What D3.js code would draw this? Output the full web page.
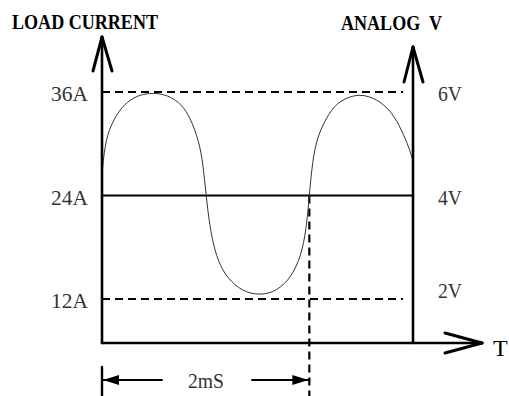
<!DOCTYPE html>
<html>
<head>
<meta charset="utf-8">
<script src="https://cdn.jsdelivr.net/npm/d3@7"></script>
<style>
  body { margin: 0; background: #fff; }
  text { font-family: "Liberation Serif", "DejaVu Serif", serif; }
</style>
</head>
<body>
<div id="content"></div>
<script>
// waveform samples: time in ms, load current in A
var times = [0.00, 0.02, 0.06, 0.17, 0.27, 0.37, 0.49, 0.61, 0.71, 0.81, 0.90, 0.96, 0.99,
             1.02, 1.06, 1.12, 1.21, 1.35, 1.52, 1.69, 1.83, 1.92, 1.97, 2.00,
             2.03, 2.08, 2.19, 2.29, 2.48, 2.67, 2.80, 2.89, 2.96, 2.99];
var current = [26.5, 29.0, 31.6, 34.0, 35.1, 35.7, 35.9, 35.7, 35.1, 34.0, 31.6, 29.0, 25.8,
               22.2, 19.0, 16.3, 14.4, 12.9, 12.4, 12.9, 14.6, 17.0, 20.0, 24.0,
               28.0, 31.0, 33.6, 35.0, 35.9, 35.1, 33.6, 31.6, 29.6, 28.4];

var currentTicks = [36, 24, 12];
var voltTicks = [6, 4, 2];
var dashedLevels = [36, 12];
var periodMs = 2;   // width of the 2mS dimension
var tMax = 3;       // right axis position in ms

var svg = d3.select('#content')
  .append('svg')
  .attr('width', 509).attr('height', 396);

var x = d3.scaleLinear().domain([0, tMax]).range([102, 413]);
var y = d3.scaleLinear().domain([12, 36]).range([299, 92]);
var yV = d3.scaleLinear().domain([2, 6]).range([299, 92]);
var baseY = 343;

// dashed reference levels
svg.selectAll('line.lvl')
  .data(dashedLevels)
  .enter().append('line')
  .attr('x1', x(0)).attr('x2', 403)
  .attr('y1', function(d){ return y(d); })
  .attr('y2', function(d){ return y(d); })
  .attr('stroke', '#000').attr('stroke-width', 2.2)
  .attr('stroke-dasharray', '8,5');

// 24A solid mid line
svg.append('line')
  .attr('x1', x(0)).attr('x2', x(tMax))
  .attr('y1', y(24)).attr('y2', y(24))
  .attr('stroke', '#000').attr('stroke-width', 2.2);

// dashed vertical at 2ms
svg.append('line')
  .attr('x1', x(periodMs)).attr('x2', x(periodMs))
  .attr('y1', y(24)).attr('y2', 396)
  .attr('stroke', '#000').attr('stroke-width', 2.2)
  .attr('stroke-dasharray', '8,5');

// waveform
var pts = times.map(function(t, i){ return [t, current[i]]; });
var line = d3.line()
  .x(function(d){ return x(d[0]); })
  .y(function(d){ return y(d[1]); })
  .curve(d3.curveBasis);
svg.append('path')
  .attr('d', line(pts))
  .attr('fill', 'none')
  .attr('stroke', '#333').attr('stroke-width', 1);

// axes
var axisW = 2.6;
function seg(x1, y1, x2, y2, w) {
  svg.append('line')
    .attr('x1', x1).attr('y1', y1).attr('x2', x2).attr('y2', y2)
    .attr('stroke', '#000').attr('stroke-width', w || axisW)
    .attr('stroke-linecap', 'round');
}
// left axis + arrow
seg(x(0), baseY, x(0), 37);
seg(x(0), 37, x(0) - 9, 71, 3);
seg(x(0), 37, x(0) + 10, 71, 3);
// right axis + arrow
seg(x(tMax), baseY, x(tMax), 47);
seg(x(tMax), 47, x(tMax) - 9, 82, 3);
seg(x(tMax), 47, x(tMax) + 10, 82, 3);
// time axis + arrow
seg(x(0), baseY, 482, baseY);
seg(482, baseY, 445, baseY - 10, 3);
seg(482, baseY, 445, baseY + 10, 3);

// tick labels
svg.selectAll('text.cur')
  .data(currentTicks)
  .enter().append('text')
  .attr('x', 88)
  .attr('y', function(d){ return y(d) + 9; })
  .attr('text-anchor', 'end')
  .attr('font-size', 21)
  .attr('fill', '#333')
  .attr('textLength', 37).attr('lengthAdjust', 'spacingAndGlyphs')
  .text(function(d){ return d + 'A'; });

svg.selectAll('text.volt')
  .data(voltTicks)
  .enter().append('text')
  .attr('x', 438)
  .attr('y', function(d){ return yV(d) + (d === 2 ? -1 : 9); })
  .attr('font-size', 21)
  .attr('fill', '#333')
  .attr('textLength', 24).attr('lengthAdjust', 'spacingAndGlyphs')
  .text(function(d){ return d + 'V'; });

// titles
svg.append('text')
  .attr('x', 12).attr('y', 29)
  .attr('font-size', 21).attr('font-weight', 'bold')
  .attr('textLength', 146).attr('lengthAdjust', 'spacingAndGlyphs')
  .text('LOAD CURRENT');
svg.append('text')
  .attr('x', 341).attr('y', 30)
  .attr('font-size', 21).attr('font-weight', 'bold')
  .attr('textLength', 101).attr('lengthAdjust', 'spacingAndGlyphs')
  .attr('xml:space', 'preserve')
  .text('ANALOG  V');
svg.append('text')
  .attr('x', 493).attr('y', 356)
  .attr('font-size', 24)
  .text('T');

// 2mS dimension
var dimY = 380;
seg(x(0), 367, x(0), 396, 2.4);
seg(x(0), dimY, 162, dimY, 2);
seg(252, dimY, x(periodMs), dimY, 2);
svg.append('path')
  .attr('d', 'M' + (x(0) + 1) + ',' + dimY + 'L' + (x(0) + 17) + ',' + (dimY - 5) + 'L' + (x(0) + 17) + ',' + (dimY + 5) + 'Z')
  .attr('fill', '#000');
svg.append('path')
  .attr('d', 'M' + (x(periodMs) - 1) + ',' + dimY + 'L' + (x(periodMs) - 17) + ',' + (dimY - 5) + 'L' + (x(periodMs) - 17) + ',' + (dimY + 5) + 'Z')
  .attr('fill', '#000');
svg.append('text')
  .attr('x', 206).attr('y', 388)
  .attr('text-anchor', 'middle')
  .attr('font-size', 21)
  .attr('fill', '#333')
  .attr('textLength', 36).attr('lengthAdjust', 'spacingAndGlyphs')
  .text(periodMs + 'mS');
</script>
</body>
</html>
